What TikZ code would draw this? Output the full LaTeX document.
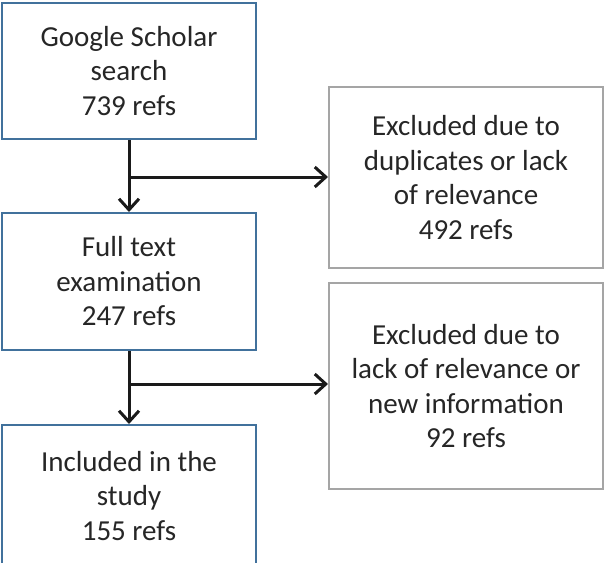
\documentclass[tikz,border=0pt]{standalone}
\usepackage{fontspec}
\setmainfont{Carlito}
\usetikzlibrary{arrows.meta}
\definecolor{stepblue}{RGB}{65,113,156}
\definecolor{exclgray}{RGB}{165,165,165}
\definecolor{txt}{RGB}{38,38,38}
\definecolor{flow}{RGB}{26,26,26}
\tikzset{
  x=1pt, y=-1pt,
  box/.style={draw, line width=2pt, fill=white, text=txt, align=center,
    inner sep=0pt, font=\fontsize{29}{34.5}\selectfont},
  stepbox/.style={box, draw=stepblue, minimum width=254pt},
  exclbox/.style={box, draw=exclgray, minimum width=274pt},
  flowline/.style={draw=flow, line width=3pt},
  flowarrow/.style={flowline, -{Straight Barb[length=11pt,width=20pt,line width=3pt]}}
}
\begin{document}
\begin{tikzpicture}
\useasboundingbox (0,0) rectangle (604,562);
\clip (0,0) rectangle (604,562);
% main sequence of steps
\node[stepbox, minimum height=136pt] (search) at (129,71) {Google Scholar\\search\\739 refs};
\node[stepbox, minimum height=137pt] (full) at (129,281.5) {Full text\\examination\\247 refs};
\node[stepbox, minimum height=142pt] (incl) at (129,496) {Included in the\\study\\155 refs};
% exclusions
\node[exclbox, minimum height=181pt] (excl1) at (466,177.5) {Excluded due to\\duplicates or lack\\of relevance\\492 refs};
\node[exclbox, minimum height=206pt] (excl2) at (466,386) {Excluded due to\\lack of relevance or\\new information\\92 refs};
% branch points on the vertical flow
\coordinate (j1) at (search.south |- 0,177);
\coordinate (j2) at (full.south |- 0,384);
\draw[flowarrow] (search.south) -- (full.north);
\draw[flowarrow] (full.south) -- (incl.north);
\draw[flowarrow] (j1) -- (j1 -| excl1.west);
\draw[flowarrow] (j2) -- (j2 -| excl2.west);
\end{tikzpicture}
\end{document}
